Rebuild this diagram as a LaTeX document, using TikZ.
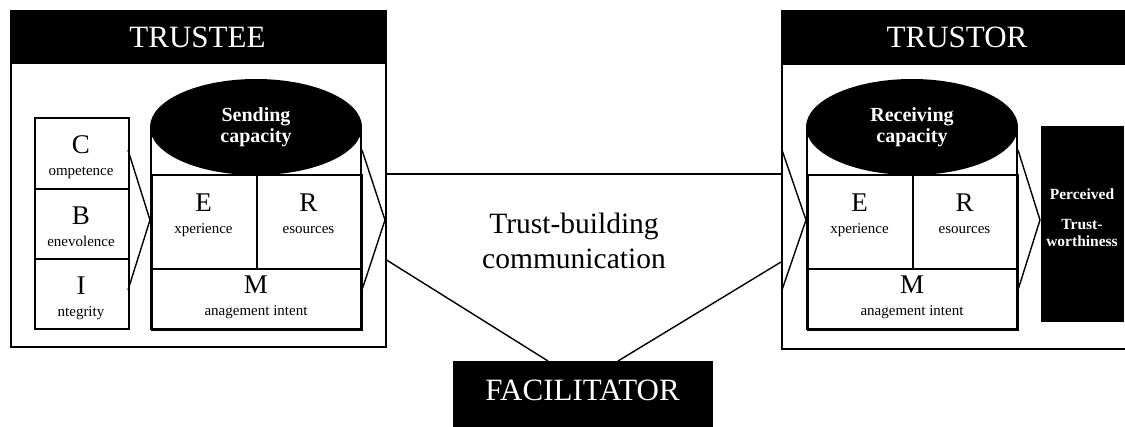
\documentclass[tikz,border=0pt]{standalone}
\usepackage{fontspec}
\setmainfont{Liberation Serif}
\usetikzlibrary{shapes.geometric,calc}
\begin{document}
\begin{tikzpicture}[x=1pt,y=-1pt,
  outer/.style={draw=black,line width=1.6pt,inner sep=0pt,anchor=north west},
  inbox/.style={draw=black,line width=2pt,inner sep=0pt,anchor=north west},
  blackbox/.style={fill=black,draw=black,line width=1pt,inner sep=0pt,anchor=north west},
  conn/.style={draw=black,line width=1.4pt},
  hdrtext/.style={text=white,font=\fontsize{31}{34}\selectfont,inner sep=0pt,anchor=base},
  big/.style={font=\fontsize{27}{29}\selectfont,inner sep=0pt,anchor=base},
  sml/.style={font=\fontsize{15}{17}\selectfont,inner sep=0pt,anchor=base},
  capacity/.style={ellipse,fill=black,text=white,font=\bfseries\fontsize{20}{21}\selectfont,align=center,inner sep=0pt,minimum width=212pt,minimum height=96pt},
  mid/.style={font=\fontsize{29.5}{34}\selectfont,inner sep=0pt,anchor=base},
]
\useasboundingbox (0,0) rectangle (1125,426);
\clip (0,0) rectangle (1125,426);
\fill[white] (0,0) rectangle (1125,426);

% ---------------- TRUSTEE ----------------
\node[outer,minimum width=375pt,minimum height=336pt] (trustee) at (10,10) {};
\node[blackbox,minimum width=375pt,minimum height=53pt] (trusteehdr) at (10,10) {};
\node[hdrtext] (trusteelbl) at (197.5,47) {TRUSTEE};

\node[inbox,minimum width=94pt,minimum height=71pt] (cbox) at (34,117) {};
\node[inbox,minimum width=94pt,minimum height=70pt] (bbox) at (34,188) {};
\node[inbox,minimum width=94pt,minimum height=70pt] (ibox) at (34,258) {};
\node[big] (cl) at (81,153) {C};
\node[sml] (cs) at (81,175) {ompetence};
\node[big] (bl) at (81,224) {B};
\node[sml] (bs) at (81,246) {enevolence};
\node[big] (il) at (81,294) {I};
\node[sml] (is) at (81,316) {ntegrity};

\draw[line width=2pt] (151,127) -- (151,329) -- (361,329) -- (361,127);
\node[inbox,minimum width=105pt,minimum height=94pt] (ecell) at (151,174) {};
\node[inbox,minimum width=105pt,minimum height=94pt] (rcell) at (256,174) {};
\node[inbox,minimum width=210pt,minimum height=61pt] (mcell) at (151,268) {};
\node[capacity] (sendcap) at (256,127) {Sending\\capacity};
\node[big] (el) at (203.5,211) {E};
\node[sml] (es) at (203.5,233) {xperience};
\node[big] (rl) at (308.5,211) {R};
\node[sml] (rs) at (308.5,233) {esources};
\node[big] (ml) at (256,293) {M};
\node[sml] (ms) at (256,315) {anagement intent};

\draw[conn] (128,150) -- (150,220) -- (128,290);
\draw[conn] (362,150) -- (385,220) -- (362,290);

% ---------------- TRUSTOR ----------------
\node[outer,minimum width=352pt,minimum height=338pt] (trustor) at (781,10) {};
\node[blackbox,minimum width=352pt,minimum height=54pt] (trustorhdr) at (781,10) {};
\node[hdrtext] (trustorlbl) at (957,47) {TRUSTOR};

\draw[line width=2pt] (807,127) -- (807,329) -- (1017,329) -- (1017,127);
\node[inbox,minimum width=105pt,minimum height=94pt] (ecell2) at (807,174) {};
\node[inbox,minimum width=105pt,minimum height=94pt] (rcell2) at (912,174) {};
\node[inbox,minimum width=210pt,minimum height=61pt] (mcell2) at (807,268) {};
\node[capacity] (recvcap) at (912,127) {Receiving\\capacity};
\node[big] (el2) at (859.5,211) {E};
\node[sml] (es2) at (859.5,233) {xperience};
\node[big] (rl2) at (964.5,211) {R};
\node[sml] (rs2) at (964.5,233) {esources};
\node[big] (ml2) at (912,293) {M};
\node[sml] (ms2) at (912,315) {anagement intent};

\draw[conn] (782,150) -- (806,220) -- (782,290);
\draw[conn] (1018,150) -- (1040,220) -- (1018,290);

\node[blackbox,minimum width=82pt,minimum height=195pt] (perc) at (1041,126) {};
\node[text=white,font=\bfseries\fontsize{15.5}{17.5}\selectfont,align=center,inner sep=0pt] (perctext) at (1082,218) {Perceived\\[12pt]Trust-\\worthiness};

% ---------------- FACILITATOR & communication ----------------
\node[blackbox,minimum width=259pt,minimum height=70pt] (fac) at (453,361) {};
\node[hdrtext] (faclbl) at (582.5,400) {FACILITATOR};

\draw[conn] (trustee.east |- 0,174) -- (trustor.west |- 0,174);
\draw[conn] (trustee.east |- 0,260) -- ($(fac.north)+(-35,0)$);
\draw[conn] ($(fac.north)+(35,0)$) -- (trustor.west |- 0,262);

\node[mid] (tb1) at (574,233) {Trust-building};
\node[mid] (tb2) at (574,268) {communication};
\end{tikzpicture}
\end{document}
